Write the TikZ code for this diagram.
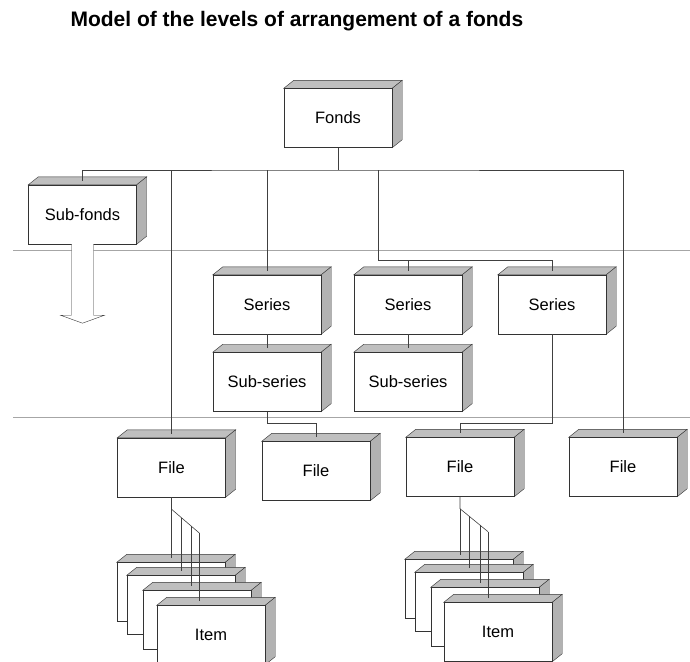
\documentclass[tikz,border=0pt]{standalone}
\usepackage{fontspec}
\setmainfont{Liberation Sans}
\usetikzlibrary{positioning}

\begin{document}
\begin{tikzpicture}[x=1pt,y=-1pt,
  box/.style={draw=black!80, fill=white, minimum width=108, minimum height=59, inner sep=0pt,
    font=\fontsize{16.5}{19}\selectfont,
    append after command={\pgfextra{
      \draw[black!80, fill=gray!50] (\tikzlastnode.north west) -- ++(10pt,8pt) -- ([shift={(10pt,8pt)}]\tikzlastnode.north east) -- (\tikzlastnode.north east) -- cycle;
      \draw[black!80, fill=gray!60] (\tikzlastnode.north east) -- ++(10pt,8pt) -- ([shift={(10pt,8pt)}]\tikzlastnode.south east) -- (\tikzlastnode.south east) -- cycle;}}},
  link/.style={draw=black!75, line width=0.6pt},
  level line/.style={draw=gray!70, line width=0.6pt}]

    \useasboundingbox (0,0) rectangle (690,661);

		\node[anchor=base west, font=\bfseries\fontsize{21}{24}\selectfont](title) at (67,27){Model of the levels of arrangement of a fonds};

		% level lines
		\draw[level line] (13,250) -- (690,250);
		\draw[level line] (13,417) -- (690,417);

		\node[box](fonds) at (338,118){Fonds};
		\node[box](subfonds) at (82.5,214.5){Sub-fonds};
		\draw[black!80, fill=white] ([xshift=-11pt]subfonds.south) -- ++(0,71) -- ++(-11,0) -- ++(22,8) -- ++(22,-8) -- ++(-11,0) -- ([xshift=11pt]subfonds.south);

		\node[box](ser1) at (267,304.5){Series};
		\node[box](ser2) at (408,304.5){Series};
		\node[box](ser3) at (552,304.5){Series};
		\node[box](sub1)[below = 18pt of ser1]{Sub-series};
		\node[box](sub2)[below = 18pt of ser2]{Sub-series};

		\node[box](file1) at (171.5,467.5){File};
		\node[box](file2) at (316,471){File};
		\node[box](file3) at (460,467){File};
		\node[box](file4) at (623,467){File};

		\node[box](i1a) at (171,592){};
		\node[box](i1b) at (181,605){};
		\node[box](i1c) at (197,620){};
		\node[box](i1d) at (211,635){Item};

		\node[box](i2a) at (459,589){};
		\node[box](i2b) at (469,602){};
		\node[box](i2c) at (485,617){};
		\node[box](i2d) at (498,632){Item};

		% links
		\coordinate (bus) at (338,170);
		\coordinate (fork) at (378,260);
		\draw[link] (fonds.south) -- (bus);
		\draw[link, shorten <=4pt, shorten >=4pt] (subfonds.north) |- (bus) -| (file4.north);
		\draw[link, shorten >=4pt] (bus -| file1.north) -- (file1.north);
		\draw[link, shorten >=4pt] (bus -| ser1.north) -- (ser1.north);
		\draw[link, shorten >=4pt] (bus -| fork) -- (fork) -| (ser3.north);
		\draw[link, shorten >=4pt] (fork -| ser2.north) -- (ser2.north);
		\draw[link, shorten >=4pt] (ser1) -- (sub1);
		\draw[link, shorten >=4pt] (ser2) -- (sub2);
		\draw[link, shorten >=4pt] (sub1.south) -- ++(0,12) -| (file2.north);
		\draw[link, shorten >=4pt] (ser3.south) -- ++(0,89) -| (file3.north);

		\draw[link] (file1.south) -- ++(0,12) coordinate (a1) -- ++(28,24) coordinate (a4);
		\path (a1) -- (a4) coordinate[pos=0.36] (a2) coordinate[pos=0.71] (a3);
		\draw[link, shorten >=4pt] (a1) -- (a1 |- i1a.north);
		\draw[link, shorten >=4pt] (a2) -- (a2 |- i1b.north);
		\draw[link, shorten >=4pt] (a3) -- (a3 |- i1c.north);
		\draw[link, shorten >=4pt] (a4) -- (a4 |- i1d.north);

		\draw[link] (file3.south) -- ++(0,12) coordinate (b1) -- ++(28,23) coordinate (b4);
		\path (b1) -- (b4) coordinate[pos=0.32] (b2) coordinate[pos=0.71] (b3);
		\draw[link, shorten >=4pt] (b1) -- (b1 |- i2a.north);
		\draw[link, shorten >=4pt] (b2) -- (b2 |- i2b.north);
		\draw[link, shorten >=4pt] (b3) -- (b3 |- i2c.north);
		\draw[link, shorten >=4pt] (b4) -- (b4 |- i2d.north);

	\end{tikzpicture}
\end{document}
